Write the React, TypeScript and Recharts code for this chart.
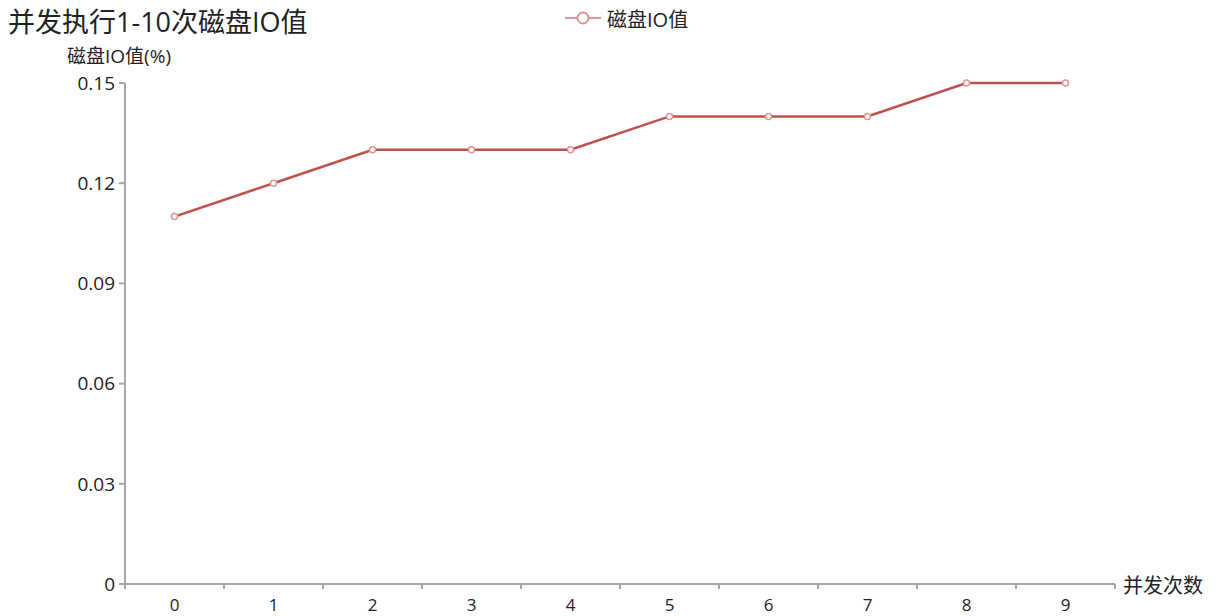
import React from "react";
import {
  ComposedChart,
  Line,
  XAxis,
  YAxis,
  Label,
} from "recharts";

const runs = ["0", "1", "2", "3", "4", "5", "6", "7", "8", "9"];
const ioValues = [0.11, 0.12, 0.13, 0.13, 0.13, 0.14, 0.14, 0.14, 0.15, 0.15];
const yTicks = [0, 0.03, 0.06, 0.09, 0.12, 0.15];

const data = runs.map((run, i) => ({ run, io: ioValues[i] }));

const W = 1216;
const H = 616;
const margin = { top: 83, right: 101, bottom: 2, left: 65 };
const Y_AXIS_W = 60;
const plotWidth = W - margin.left - margin.right - Y_AXIS_W;
const step = plotWidth / runs.length;

const FONT = "'Open Sans', 'Noto Sans CJK SC', sans-serif";
const AXIS = "#a6a6a6";
const LINE = "#c0504d";
const DOT = "#d99694";

// category labels sit in the middle of each band, tick marks on the band edges
function XTick(props: any) {
  const { x, y, payload, index } = props;
  const top = y - 8;
  return (
    <g>
      <line x1={x - step / 2} y1={top} x2={x - step / 2} y2={top + 5} stroke={AXIS} strokeWidth={2} />
      {index === runs.length - 1 && (
        <line x1={x + step / 2} y1={top} x2={x + step / 2} y2={top + 5} stroke={AXIS} strokeWidth={2} />
      )}
      <text x={x} y={top + 20} textAnchor="middle" dominantBaseline="central" fontSize={17} fill="#222" fontFamily={FONT}>
        {payload.value}
      </text>
    </g>
  );
}

export default function App() {
  return (
    <div style={{ position: "absolute", left: 0, top: 0, width: W, height: H, background: "#fff" }}>
      <div style={{ position: "absolute", left: 8, top: 3, fontFamily: FONT, fontSize: 27, lineHeight: "38px", color: "#222", whiteSpace: "nowrap" }}>
        并发执行1-10次磁盘IO值
      </div>
      <div style={{ position: "absolute", left: 565, top: 4, height: 28, display: "flex", alignItems: "center", fontFamily: FONT, fontSize: 20, color: "#222", whiteSpace: "nowrap" }}>
        <svg width={36} height={14} style={{ marginRight: 6 }}>
          <line x1={0} y1={7} x2={36} y2={7} stroke={DOT} strokeWidth={2} />
          <circle cx={18} cy={7} r={5.5} fill="#fff" stroke={DOT} strokeWidth={2} />
        </svg>
        <span>磁盘IO值</span>
      </div>
      <ComposedChart width={W} height={H} data={data} margin={margin}>
        <XAxis
          dataKey="run"
          scale="band"
          height={30}
          axisLine={{ stroke: AXIS, strokeWidth: 2 }}
          tickLine={false}
          tick={<XTick />}
          interval={0}
        >
          <Label content={(p: any) => {
            const vb = p.viewBox;
            return (
              <text x={vb.x + vb.width + 8} y={vb.y + 1} dominantBaseline="central" fontSize={20} fill="#222" fontFamily={FONT}>
                并发次数
              </text>
            );
          }} />
        </XAxis>
        <YAxis
          width={Y_AXIS_W}
          domain={[0, 0.15]}
          ticks={yTicks}
          interval={0}
          axisLine={{ stroke: AXIS, strokeWidth: 2 }}
          tickLine={{ stroke: AXIS, strokeWidth: 2 }}
          tickSize={6}
          tickMargin={4}
          tick={{ fontSize: 19, fill: "#222", fontFamily: FONT }}
        >
          <Label content={(p: any) => {
            const vb = p.viewBox;
            return (
              <text x={vb.x + vb.width - 6} y={vb.y - 27} textAnchor="middle" dominantBaseline="central" fontSize={19} fill="#222" fontFamily={FONT}>
                磁盘IO值(%)
              </text>
            );
          }} />
        </YAxis>
        <Line
          type="linear"
          dataKey="io"
          name="磁盘IO值"
          stroke={LINE}
          strokeWidth={2.5}
          dot={{ r: 3, fill: "#fff", stroke: DOT, strokeWidth: 1.5 }}
          activeDot={false}
          isAnimationActive={false}
        />
      </ComposedChart>
    </div>
  );
}
